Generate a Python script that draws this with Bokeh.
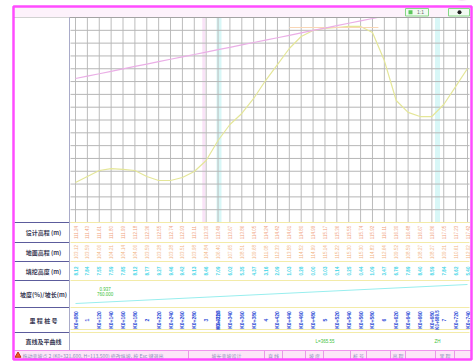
import math
from bokeh.plotting import figure
from bokeh.models import Range1d
from bokeh.core.properties import value
from bokeh.embed import file_html
from bokeh.resources import INLINE

# ---------------- data ----------------
stations = [80, 100, 120, 140, 160, 180, 200, 220, 240, 260, 280, 300,
            320, 340, 360, 380, 400, 420, 440, 460, 480, 500, 520, 540,
            560, 580, 600, 620, 640, 660, 680, 700, 720, 740]
design_elev = [111.24, 111.43, 111.61, 111.80, 111.99, 112.18, 112.36, 112.55,
               112.74, 112.93, 113.11, 113.30, 113.49, 113.67, 113.86, 114.05,
               114.24, 114.42, 114.61, 114.80, 114.99, 115.17, 115.36, 115.55,
               115.74, 115.92, 116.11, 116.30, 116.48, 116.67, 116.86, 117.05,
               117.23, 117.42]
ground_elev = [103.12, 103.59, 104.06, 104.21, 104.14, 104.06, 103.59, 103.28,
               103.28, 103.51, 103.98, 104.84, 106.40, 107.65, 108.51, 109.68,
               111.08, 112.33, 113.58, 114.52, 114.99, 115.14, 115.22, 115.30,
               115.30, 114.83, 112.64, 109.52, 108.59, 108.27, 108.27, 109.21,
               110.61, 112.02]
tangent_sta = [440, 590]
tangent_elev = [115.22, 115.22]
feature_sta = [296.0, 321.6, 689.5]
feature_name = ["K0+296.0", "K0+321.6", "K0+689.5"]
elev_ticks = [100, 101, 102, 103, 104, 105, 106, 107, 108, 109, 110, 111,
              112, 113, 114, 115, 116]
grade_sta = [130]
grade_text = ["0.937", "760.000"]
curve_text_sta = [500, 689.5]
curve_text = ["L=365.55", "ZH"]
row_labels = ["设计高程 (m)", "地面高程 (m)", "填挖高度 (m)",
              "坡度(%)/坡长(m)", "里 程 桩 号", "直线及平曲线"]
status_msg = "拖动变坡点 2 (K0+321.600, H=113.500) 修改纵坡, 按 Esc 键退出"
status_cells = ["坡长变坡设计", "直 线", "坡 度", "桩 号", "高 程", "里 程"]

fill_height = [round(d - g, 2) for d, g in zip(design_elev, ground_elev)]
stake_labels = [str(s // 100) if s % 100 == 0 else "K0+%03d" % s for s in stations]

# ---------------- layout ----------------
CJK = "Noto Sans CJK SC"
W, H = 474, 362
LX = (0, 474)
LY = (362, 0)
GX0, GX1, GY0, GY1 = 70, 469, 17, 222
PX_FIRST, PX_LAST = 75, 467
rows = [222, 242, 261, 280, 307, 332, 350]
row_mid = [(a + b) / 2 for a, b in zip(rows[:-1], rows[1:])]

spp = (stations[-1] - stations[0]) / (PX_LAST - PX_FIRST)
sta_rng = Range1d(stations[0] - (PX_FIRST - LX[0]) * spp,
                  stations[-1] + (LX[1] - PX_LAST) * spp)
mpp = (elev_ticks[-1] - elev_ticks[0]) / (GY1 - GY0)
elev_rng = Range1d(elev_ticks[0] - (LY[0] - GY1) * mpp,
                   elev_ticks[-1] + (GY0 - LY[1]) * mpp)

p = figure(width=W, height=H, x_range=Range1d(*LX), y_range=Range1d(*LY),
           x_axis_location=None, y_axis_location=None, toolbar_location=None,
           output_backend="svg", min_border=0)
p.grid.visible = False
p.outline_line_color = None
p.background_fill_color = "white"
p.border_fill_color = "white"
p.extra_x_ranges = {"sta": sta_rng}
p.extra_y_ranges = {"elev": elev_rng}

# feature bands
p.segment(x0=feature_sta[:1], x1=feature_sta[:1], y0=GY0, y1=GY1, x_range_name="sta",
          line_color="#f9e2f7", line_width=3)
p.segment(x0=feature_sta[1:], x1=feature_sta[1:], y0=GY0, y1=GY1, x_range_name="sta",
          line_color="#d8f7f7", line_width=5)

# grid
p.segment(x0=stations, x1=stations, y0=GY0, y1=GY1, x_range_name="sta",
          line_color="#bcbcbc", line_width=1)
p.segment(x0=GX0, x1=GX1, y0=elev_ticks, y1=elev_ticks, y_range_name="elev",
          line_color="#b6b6b6", line_width=1)

# profile lines
p.line(stations, ground_elev, x_range_name="sta", y_range_name="elev",
       line_color="#e4e698", line_width=1.2)
p.line(tangent_sta, tangent_elev, x_range_name="sta", y_range_name="elev",
       line_color="#f8d6b6", line_width=1.2)
p.line(stations, design_elev, x_range_name="sta", y_range_name="elev",
       line_color="#eaaee6", line_width=1.2)

# top strip
p.quad(left=13, right=471, top=5, bottom=GY0, fill_color="#fdf2fb", line_color=None)
p.quad(left=13, right=471, top=0, bottom=5, fill_color="white", line_color=None)
p.segment(x0=13, x1=471, y0=GY0, y1=GY0, line_color="#a3a3a3", line_width=1.2)
p.quad(left=405, right=428, top=8, bottom=15.5, fill_color="#f2fbf2",
       line_color="#86d886", line_width=1)
p.scatter(x=[410], y=[11.8], marker="square", size=4, fill_color="#5cc85c", line_color=None)
p.text(x=[420], y=[11.8], text=["1:1"], text_font_size="5px", text_color="#707070",
       text_align="center", text_baseline="middle")
p.quad(left=448, right=469, top=8, bottom=15.5, fill_color="#f2fbf2",
       line_color="#86d886", line_width=1)
p.scatter(x=[459], y=[11.8], marker="circle", size=4, fill_color="#202020", line_color=None)

# left column and row separators
p.quad(left=14, right=69, top=GY0, bottom=rows[-1], fill_color="white", line_color=None)
p.segment(x0=GX0, x1=GX1, y0=rows[:-1], y1=rows[:-1], line_color="#f3eba8", line_width=1)
p.segment(x0=GX0, x1=GX1, y0=[329], y1=[329], line_color="#f3eba8", line_width=1)
p.segment(x0=14, x1=69, y0=rows[:-1], y1=rows[:-1], line_color="#5c5c9c", line_width=1.2)
p.segment(x0=69, x1=69, y0=GY0, y1=rows[-1], line_color="#a9abc9", line_width=1)
p.text(x=43, y=row_mid, text=row_labels, text_font=value(CJK), text_font_size="6px",
       text_font_style="bold", text_color="#3a3a55", text_align="center",
       text_baseline="middle")

# row values
p.text(x=stations, y=row_mid[0], text=["%.2f" % v for v in design_elev],
       x_range_name="sta", angle=math.pi / 2, text_font_size="4.5px",
       text_color="#f1a57f", text_align="center", text_baseline="middle")
p.text(x=stations, y=row_mid[1], text=["%.2f" % v for v in ground_elev],
       x_range_name="sta", angle=math.pi / 2, text_font_size="4.5px",
       text_color="#f2b686", text_align="center", text_baseline="middle")
p.text(x=stations, y=row_mid[2], text=["%.2f" % v for v in fill_height],
       x_range_name="sta", angle=math.pi / 2, text_font_size="4.5px",
       text_font_style="bold", text_color="#3ad4e6", text_align="center",
       text_baseline="middle")

# grade row
p.segment(x0=stations[0], x1=stations[-1], y0=rows[4] - 4, y1=rows[3] + 4,
          x_range_name="sta", line_color="#98eeee", line_width=1.2)
p.text(x=grade_sta, y=rows[3] + 8, text=grade_text[:1], x_range_name="sta",
       text_font_size="4.5px", text_color="#3cbf3c", text_align="center",
       text_baseline="middle")
p.text(x=grade_sta, y=rows[3] + 13.5, text=grade_text[1:], x_range_name="sta",
       text_font_size="4.5px", text_color="#3cbf3c", text_align="center",
       text_baseline="middle")

# stake row
p.text(x=stations, y=row_mid[4], text=stake_labels, x_range_name="sta",
       angle=math.pi / 2, text_font_size="5px", text_font_style="bold",
       text_color="#2a4ad6", text_align="center", text_baseline="middle")
p.text(x=feature_sta[1:], y=row_mid[4], text=feature_name[1:], x_range_name="sta",
       angle=math.pi / 2, text_font_size="4.5px", text_font_style="bold",
       text_color="#2a4ad6", text_align="center", text_baseline="middle")

# horizontal alignment row
p.text(x=curve_text_sta, y=row_mid[5], text=curve_text, x_range_name="sta",
       text_font_size="4.5px", text_color="#3cbf3c", text_align="center",
       text_baseline="middle")

# status bar
p.quad(left=14, right=471, top=rows[-1], bottom=359, fill_color="#fce6f8", line_color=None)
p.segment(x0=14, x1=471, y0=rows[-1], y1=rows[-1], line_color="#f094ee", line_width=1)
sep = [188, 264, 282, 305, 323, 350, 366, 390, 405, 435, 454]
p.segment(x0=sep, x1=sep, y0=rows[-1], y1=359, line_color="#e89ae6", line_width=1)
cell_x = [226, 273, 314, 358, 397.5, 444.5]
p.text(x=cell_x, y=355, text=status_cells, text_font=value(CJK), text_font_size="5px",
       text_color="#8a8fb8", text_align="center", text_baseline="middle")
p.scatter(x=[17.5], y=[355], marker="triangle", size=6, fill_color="#f05a28",
          line_color="#c03010")
p.text(x=[22], y=[355], text=[status_msg], text_font=value(CJK), text_font_size="5px",
       text_color="#8a8fb8", text_align="left", text_baseline="middle")

# outer border
p.quad(left=13, right=471, top=6, bottom=359, fill_color=None,
       line_color="#ff4cff", line_width=2.5)

open("out.html", "w").write(file_html(p, INLINE))
